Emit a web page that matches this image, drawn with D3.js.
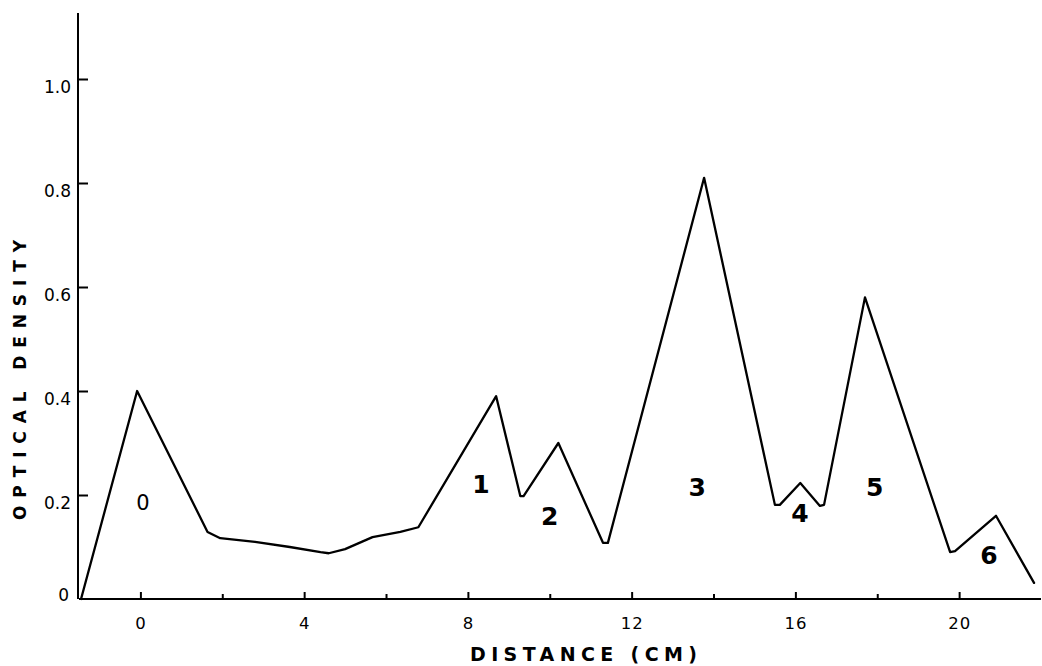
<!DOCTYPE html>
<html>
<head>
<meta charset="utf-8">
<script src="https://cdn.jsdelivr.net/npm/d3@7"></script>
<style>
  html, body { margin: 0; padding: 0; background: #fff; }
  svg { display: block; }
  text { font-family: "DejaVu Sans", "Liberation Sans", sans-serif; fill: #000; }
</style>
</head>
<body>
<svg id="chart" width="1042" height="666"></svg>
<script>
// ---- data ----
const distance = [-1.45, -0.08, 1.64, 1.95, 2.8, 3.65, 4.4, 4.6, 5.0, 5.67, 6.35, 6.79, 8.69, 9.28, 9.36, 10.21, 11.3, 11.42, 13.77, 15.5, 15.62, 16.12, 16.6, 16.7, 17.7, 19.78, 19.9, 20.9, 21.83];
const density  = [0.0, 0.400, 0.129, 0.117, 0.110, 0.100, 0.090, 0.088, 0.096, 0.119, 0.129, 0.138, 0.390, 0.198, 0.198, 0.300, 0.108, 0.108, 0.810, 0.181, 0.181, 0.223, 0.179, 0.181, 0.580, 0.090, 0.092, 0.160, 0.031];
const peakLabels = ["0", "1", "2", "3", "4", "5", "6"];
const peakLabelX = [0.06, 8.32, 10.0, 13.6, 16.11, 17.94, 20.73];
const peakLabelY = [0.172, 0.204, 0.142, 0.198, 0.148, 0.198, 0.067];
const xTicks = [0, 4, 8, 12, 16, 20];
const xMinorTicks = [2, 6, 10, 14, 18];
const yTicks = [0, 0.2, 0.4, 0.6, 0.8, 1.0];
const yTickLabels = ["0", "0.2", "0.4", "0.6", "0.8", "1.0"];
const xTitle = "DISTANCE (CM)";
const yTitle = "OPTICAL DENSITY";

// ---- scales ----
const svg = d3.select("#chart");
const x = d3.scaleLinear().domain([-1.5, 22]).range([79, 1041]);
const y = d3.scaleLinear().domain([0, 1]).range([599, 79]);
const yTop = 1.127;

// ---- axes ----
const xAxis = d3.axisBottom(x).tickValues(xTicks).tickSizeInner(-7).tickSizeOuter(0).tickPadding(18).tickFormat(d3.format("d"));
const gx = svg.append("g").attr("transform", `translate(0,${y(0)})`).call(xAxis);
gx.select(".domain").attr("stroke-width", 2).attr("d", `M${x(-1.5)},0H${x(22)}`);
gx.selectAll(".tick line").attr("stroke-width", 2);
gx.selectAll(".tick text").attr("font-size", 16.5).attr("letter-spacing", 1);

const xMinor = d3.axisBottom(x).tickValues(xMinorTicks).tickSizeInner(-5).tickSizeOuter(0).tickFormat("");
const gxm = svg.append("g").attr("transform", `translate(0,${y(0)})`).call(xMinor);
gxm.select(".domain").remove();
gxm.selectAll(".tick line").attr("stroke-width", 2);

const yAxis = d3.axisLeft(y).tickValues(yTicks).tickSizeInner(-10).tickSizeOuter(0).tickPadding(7)
  .tickFormat((d, i) => yTickLabels[i]);
const gy = svg.append("g").attr("transform", `translate(${x(-1.5) - 1},0)`).call(yAxis);
gy.select(".domain").attr("stroke-width", 2).attr("d", `M0,${y(0)}V${y(yTop)}`);
gy.selectAll(".tick line").attr("stroke-width", 2).filter(d => d === 0).remove();
gy.selectAll(".tick text").attr("font-size", 17)
  .attr("dy", d => d === 0 ? "0.1em" : "0.78em")
  .attr("x", d => d === 0 ? -9 : -7);

// ---- line ----
const pts = distance.map((d, i) => [d, density[i]]);
const line = d3.line().x(d => x(d[0])).y(d => y(d[1])).curve(d3.curveLinear);
svg.append("path").datum(pts).attr("d", line)
  .attr("fill", "none").attr("stroke", "#000").attr("stroke-width", 2.3)
  .attr("stroke-linejoin", "round").attr("stroke-linecap", "round");

// ---- peak labels ----
svg.append("g").selectAll("text").data(peakLabels).join("text")
  .attr("x", (d, i) => x(peakLabelX[i]))
  .attr("y", (d, i) => y(peakLabelY[i]))
  .attr("text-anchor", "middle")
  .attr("font-size", (d, i) => i === 0 ? 21 : 25)
  .attr("font-weight", (d, i) => i === 0 ? "normal" : "bold")
  .text(d => d);

// ---- titles ----
svg.append("text").attr("x", 470).attr("y", 661)
  .attr("font-size", 19).attr("font-weight", "bold")
  .attr("textLength", 227).attr("lengthAdjust", "spacing")
  .text(xTitle);

svg.append("text").attr("transform", "translate(26,520) rotate(-90)")
  .attr("x", 0).attr("y", 0)
  .attr("font-size", 17).attr("font-weight", "bold")
  .attr("textLength", 280).attr("lengthAdjust", "spacing")
  .text(yTitle);
</script>
</body>
</html>
